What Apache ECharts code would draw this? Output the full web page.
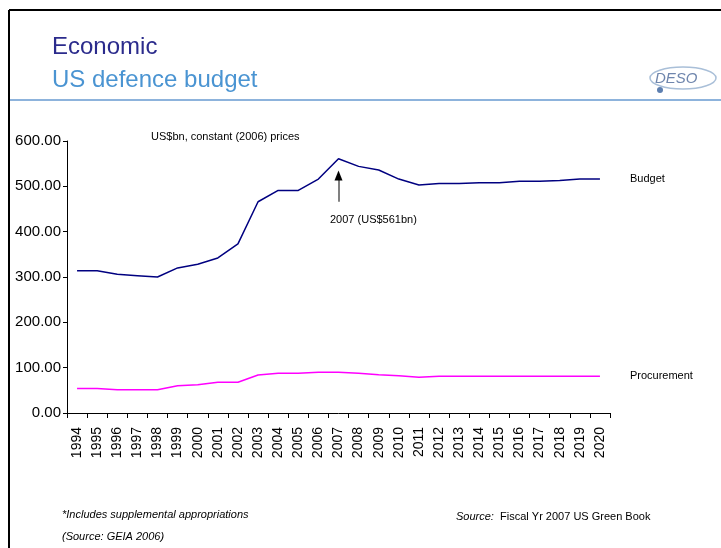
<!DOCTYPE html>
<html>
<head>
<meta charset="utf-8">
<script src="https://cdn.jsdelivr.net/npm/echarts@6/dist/echarts.min.js"></script>
<style>
  html, body { margin: 0; padding: 0; background: #fff; }
  #chart { width: 721px; height: 548px; }
</style>
</head>
<body>
<div id="chart"></div>
<script>
// Fiscal years on the category axis
const years = ['1994','1995','1996','1997','1998','1999','2000','2001','2002','2003','2004','2005','2006','2007',
               '2008','2009','2010','2011','2012','2013','2014','2015','2016','2017','2018','2019','2020'];

// US$bn, constant (2006) prices
const budget = [314, 314, 306, 303, 300, 320, 328, 342, 373, 466, 491, 491, 516, 561,
                544, 536, 516, 503, 506, 506, 508, 508, 511, 511, 513, 516, 516];
const procurement = [54, 54, 51.5, 51.5, 51.5, 60, 62.5, 68, 68, 84, 87.5, 87.5, 90, 90,
                     87.5, 84.5, 82, 79, 81, 81, 81, 81, 81, 81, 81, 81, 81];

const yTicks = { min: 0, max: 600, interval: 100 };

const peakYear = '2007';
const peakValue = 561;

const chart = echarts.init(document.getElementById('chart'), null, { renderer: 'canvas' });

const labelFont = 'Arial, "Liberation Sans", sans-serif';

chart.setOption({
  animation: false,
  backgroundColor: '#ffffff',
  grid: { left: 67, right: 111, top: 141, bottom: 135, containLabel: false },
  xAxis: {
    type: 'category',
    data: years,
    boundaryGap: true,
    axisLine: { lineStyle: { color: '#000', width: 1 } },
    axisTick: { show: true, length: 5, lineStyle: { color: '#000' } },
    axisLabel: {
      rotate: 90, margin: 14, color: '#000', fontSize: 14, fontFamily: labelFont, interval: 0
    },
    splitLine: { show: false }
  },
  yAxis: {
    type: 'value',
    min: yTicks.min, max: yTicks.max, interval: yTicks.interval,
    axisLine: { show: true, lineStyle: { color: '#000', width: 1 } },
    axisTick: { show: true, length: 4, lineStyle: { color: '#000' } },
    axisLabel: {
      margin: 6, color: '#000', fontSize: 15, fontFamily: labelFont,
      formatter: v => v.toFixed(2)
    },
    splitLine: { show: false }
  },
  series: [
    {
      name: 'Budget',
      type: 'line',
      data: budget,
      symbol: 'none',
      lineStyle: { color: '#000080', width: 1.5 },
      endLabel: { show: true, formatter: 'Budget', distance: 30, color: '#000', fontSize: 11, fontFamily: labelFont },
      markLine: {
        silent: true,
        symbol: ['none', 'none'],
        lineStyle: { color: '#808080', width: 2, type: 'solid' },
        label: { show: false },
        data: [[{ coord: [peakYear, 466] }, { coord: [peakYear, 520] }]]
      },
      markPoint: {
        silent: true,
        symbol: 'triangle',
        symbolSize: [8, 10],
        itemStyle: { color: '#000' },
        label: { show: false },
        data: [{ coord: [peakYear, 524] }]
      }
    },
    {
      name: 'Procurement',
      type: 'line',
      data: procurement,
      symbol: 'none',
      lineStyle: { color: '#ff00ff', width: 1.5 },
      endLabel: { show: true, formatter: 'Procurement', distance: 30, color: '#000', fontSize: 11, fontFamily: labelFont }
    }
  ],
  graphic: [
    // slide frame
    { type: 'line', shape: { x1: 9, y1: 10, x2: 721, y2: 10 }, style: { stroke: '#000', lineWidth: 2 } },
    { type: 'line', shape: { x1: 9, y1: 10, x2: 9, y2: 548 }, style: { stroke: '#000', lineWidth: 2 } },
    // header rule
    { type: 'line', shape: { x1: 10, y1: 100, x2: 721, y2: 100 }, style: { stroke: '#8db3dc', lineWidth: 2 } },
    // titles
    { type: 'text', left: 52, top: 35, style: { text: 'Economic', fill: '#2b2b8c', font: '24px Arial, "Liberation Sans", sans-serif' } },
    { type: 'text', left: 52, top: 68, style: { text: 'US defence budget', fill: '#4a94d2', font: '24px Arial, "Liberation Sans", sans-serif' } },
    // logo
    { type: 'ellipse', shape: { cx: 683, cy: 78, rx: 33, ry: 11 }, style: { fill: 'none', stroke: '#a9bfd8', lineWidth: 1.5 } },
    { type: 'text', left: 655, top: 71, style: { text: 'DESO', fill: '#6f86ad', font: 'italic 15px Arial, sans-serif' } },
    { type: 'circle', shape: { cx: 660, cy: 90, r: 3 }, style: { fill: '#5d7fb0' } },
    // units note
    { type: 'text', left: 151, top: 131, style: { text: 'US$bn, constant (2006) prices', fill: '#000', font: '11px ' + labelFont } },
    // peak annotation
    { type: 'text', left: 330, top: 214, style: { text: peakYear + ' (US$' + peakValue + 'bn)', fill: '#000', font: '11px ' + labelFont } },
    // footnotes
    { type: 'text', left: 62, top: 509, style: { text: '*Includes supplemental appropriations', fill: '#000', font: 'italic 11px ' + labelFont } },
    { type: 'text', left: 62, top: 531, style: { text: '(Source: GEIA 2006)', fill: '#000', font: 'italic 11px ' + labelFont } },
    { type: 'text', left: 456, top: 511, style: {
        text: '{i|Source:}  Fiscal Yr 2007 US Green Book',
        fill: '#000', font: '11px ' + labelFont,
        rich: { i: { fontStyle: 'italic', fontSize: 11, fontFamily: labelFont, fill: '#000' } }
    } }
  ]
});
</script>
</body>
</html>
